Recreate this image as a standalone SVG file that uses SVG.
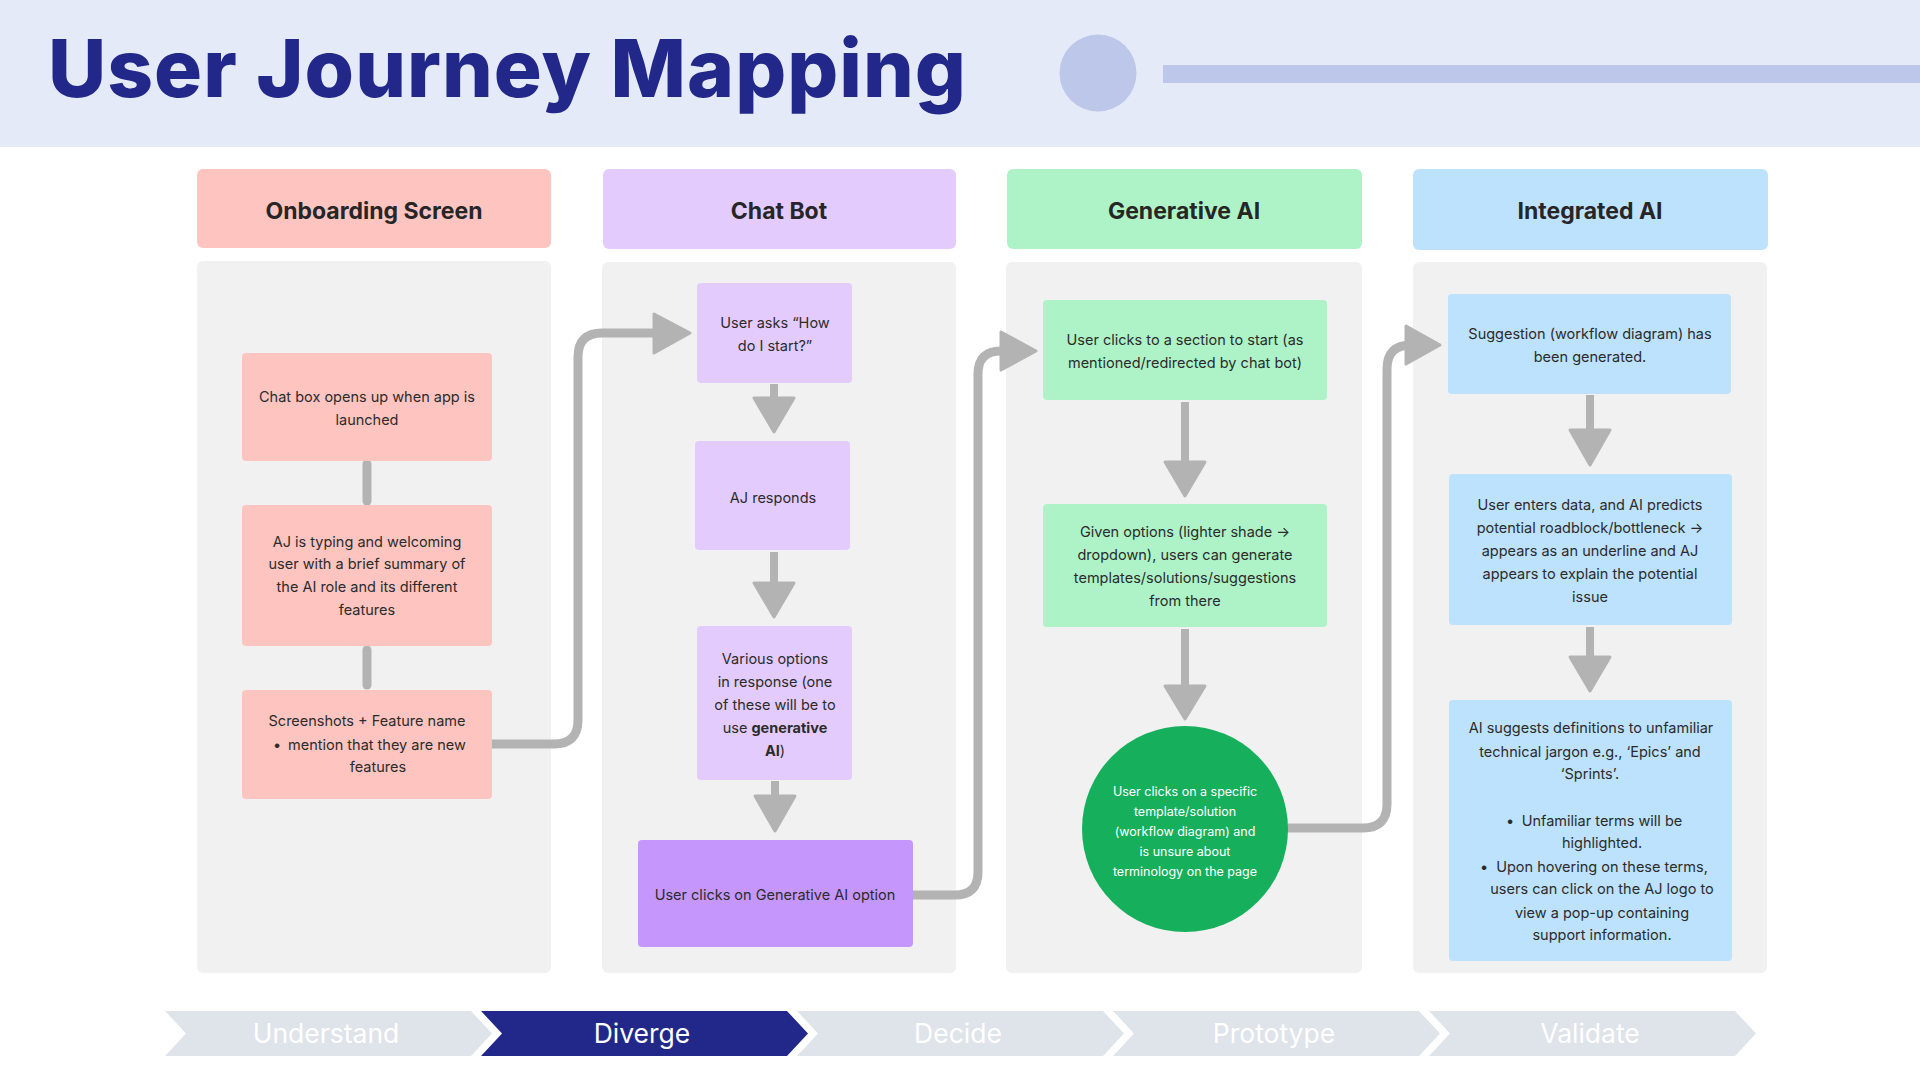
<svg xmlns="http://www.w3.org/2000/svg" width="1920" height="1080" viewBox="0 0 1920 1080">
<defs>
<style>
.t{font-family:Inter,"Noto Sans","Liberation Sans",sans-serif;font-size:14.5px;fill:#2b2b2b;text-anchor:middle}
.b{font-weight:700}
.hd{font-family:Inter,"Noto Sans","Liberation Sans",sans-serif;font-size:23px;font-weight:700;fill:#262626;text-anchor:middle}
.ct{font-family:Inter,"Noto Sans","Liberation Sans",sans-serif;font-size:12.5px;fill:#ffffff;text-anchor:middle}
.st{font-family:Inter,"Noto Sans","Liberation Sans",sans-serif;font-size:26.5px;fill:#ffffff;text-anchor:middle}
.body{fill:#f1f1f1}
.line{fill:none;stroke:#b3b3b3;stroke-width:9;stroke-linecap:round;stroke-linejoin:round}
.stem{fill:none;stroke:#b3b3b3;stroke-width:8}
.head{fill:#b3b3b3;stroke:#b3b3b3;stroke-width:3;stroke-linejoin:round}
.pk{fill:#fec5c0}.pu{fill:#e4cbfd}.pu2{fill:#c597fd}.gr{fill:#aef3c8}.bl{fill:#bde2fd}
.chev{fill:#dfe3ea}
</style>
</defs>
<rect x="0" y="0" width="1920" height="1080" fill="#ffffff"/>
<g id="header">
<rect x="0" y="0" width="1920" height="147" fill="#e4eaf8"/>
<text x="48" y="97" font-family="Inter,'Noto Sans','Liberation Sans',sans-serif" font-size="80" font-weight="800" fill="#21288a" textLength="918">User Journey Mapping</text>
<circle cx="1098" cy="73" r="38.5" fill="#bcc7ea"/>
<rect x="1163" y="65" width="757" height="18" fill="#bcc7ea"/>
</g>

<g id="col-onboarding">
<rect x="197" y="169" width="354" height="79" rx="6" class="pk"/>
<text x="374" y="219" class="hd">Onboarding Screen</text>
<rect x="197" y="261" width="354" height="712" rx="6" class="body"/>
</g>
<g id="col-chatbot">
<rect x="603" y="169" width="353" height="80" rx="6" class="pu"/>
<text x="779" y="219" class="hd">Chat Bot</text>
<rect x="602" y="262" width="354" height="711" rx="6" class="body"/>
</g>
<g id="col-genai">
<rect x="1007" y="169" width="355" height="80" rx="6" class="gr"/>
<text x="1184" y="219" class="hd">Generative AI</text>
<rect x="1006" y="262" width="356" height="711" rx="6" class="body"/>
</g>
<g id="col-integrated">
<rect x="1413" y="169" width="355" height="81" rx="6" class="bl"/>
<text x="1590" y="219" class="hd">Integrated AI</text>
<rect x="1413" y="262" width="354" height="711" rx="6" class="body"/>
</g>

<g id="connectors">
<line x1="367" y1="464" x2="367" y2="501" class="line" stroke-width="8"/>
<line x1="367" y1="650" x2="367" y2="685" class="line" stroke-width="8"/>
<path d="M492 744 H554 Q578 744 578 720 V357 Q578 333 602 333 H660" class="line"/>
<polygon points="654,314 690,333 654,353" class="head"/>
<path d="M913 895 H955 Q978 895 978 872 V374 Q978 351 1001 351 H1008" class="line"/>
<polygon points="1001,332 1036,351 1001,370" class="head"/>
<path d="M1289 828 H1363 Q1387 828 1387 804 V369 Q1387 345 1411 345 H1412" class="line"/>
<polygon points="1406,326 1440,345 1406,364" class="head"/>
<line x1="774" y1="384" x2="774" y2="400" class="stem"/>
<polygon points="754,398 794,398 774,432" class="head"/>
<line x1="774" y1="552" x2="774" y2="585" class="stem"/>
<polygon points="754,583 794,583 774,617" class="head"/>
<line x1="775" y1="781" x2="775" y2="798" class="stem"/>
<polygon points="755,796 795,796 775,831" class="head"/>
<line x1="1185" y1="402" x2="1185" y2="464" class="stem"/>
<polygon points="1165,462 1205,462 1185,496" class="head"/>
<line x1="1185" y1="629" x2="1185" y2="688" class="stem"/>
<polygon points="1165,686 1205,686 1185,719" class="head"/>
<line x1="1590" y1="395" x2="1590" y2="432" class="stem"/>
<polygon points="1570,430 1610,430 1590,465" class="head"/>
<line x1="1590" y1="627" x2="1590" y2="659" class="stem"/>
<polygon points="1570,657 1610,657 1590,691" class="head"/>
</g>

<g id="n-chatbox">
<rect x="242" y="353" width="250" height="108" rx="4" class="pk"/>
<text class="t"><tspan x="367" y="402">Chat box opens up when app is</tspan><tspan x="367" y="424.5">launched</tspan></text>
</g>
<g id="n-typing">
<rect x="242" y="505" width="250" height="141" rx="4" class="pk"/>
<text class="t"><tspan x="367" y="546.5">AJ is typing and welcoming</tspan><tspan x="367" y="569">user with a brief summary of</tspan><tspan x="367" y="592">the AI role and its different</tspan><tspan x="367" y="615">features</tspan></text>
</g>
<g id="n-screenshots">
<rect x="242" y="690" width="250" height="109" rx="4" class="pk"/>
<text class="t"><tspan x="367" y="726">Screenshots + Feature name</tspan></text>
<text class="t" x="277" y="749.5">•</text>
<text class="t" x="288" y="749.5" style="text-anchor:start">mention that they are new</text>
<text class="t" x="378" y="772">features</text>
</g>

<g id="n-asks">
<rect x="697" y="283" width="155" height="100" rx="4" class="pu"/>
<text class="t"><tspan x="775" y="327.5">User asks “How</tspan><tspan x="775" y="350.5">do I start?”</tspan></text>
</g>
<g id="n-responds">
<rect x="695" y="441" width="155" height="109" rx="4" class="pu"/>
<text class="t" x="773" y="502.5">AJ responds</text>
</g>
<g id="n-options">
<rect x="697" y="626" width="155" height="154" rx="4" class="pu"/>
<text class="t"><tspan x="775" y="663.5">Various options</tspan><tspan x="775" y="686.5">in response (one</tspan><tspan x="775" y="709.5">of these will be to</tspan><tspan x="775" y="732.5">use <tspan class="b">generative</tspan></tspan><tspan x="775" y="755.5"><tspan class="b">AI</tspan>)</tspan></text>
</g>
<g id="n-clicks-gen">
<rect x="638" y="840" width="275" height="107" rx="4" class="pu2"/>
<text class="t" x="775" y="900">User clicks on Generative AI option</text>
</g>

<g id="n-section">
<rect x="1043" y="300" width="284" height="100" rx="4" class="gr"/>
<text class="t"><tspan x="1185" y="345">User clicks to a section to start (as</tspan><tspan x="1185" y="368">mentioned/redirected by chat bot)</tspan></text>
</g>
<g id="n-given">
<rect x="1043" y="504" width="284" height="123" rx="4" class="gr"/>
<text class="t"><tspan x="1185" y="537">Given options (lighter shade →</tspan><tspan x="1185" y="560">dropdown), users can generate</tspan><tspan x="1185" y="583">templates/solutions/suggestions</tspan><tspan x="1185" y="606">from there</tspan></text>
</g>
<g id="n-specific">
<circle cx="1185" cy="829" r="103" fill="#16b05d"/>
<text class="ct"><tspan x="1185" y="795.5">User clicks on a specific</tspan><tspan x="1185" y="815.5">template/solution</tspan><tspan x="1185" y="835.5">(workflow diagram) and</tspan><tspan x="1185" y="855.5">is unsure about</tspan><tspan x="1185" y="875.5">terminology on the page</tspan></text>
</g>

<g id="n-suggestion">
<rect x="1448" y="294" width="283" height="100" rx="4" class="bl"/>
<text class="t"><tspan x="1590" y="339">Suggestion (workflow diagram) has</tspan><tspan x="1590" y="362">been generated.</tspan></text>
</g>
<g id="n-enters">
<rect x="1449" y="474" width="283" height="151" rx="4" class="bl"/>
<text class="t"><tspan x="1590" y="509.5">User enters data, and AI predicts</tspan><tspan x="1590" y="532.5">potential roadblock/bottleneck →</tspan><tspan x="1590" y="555.5">appears as an underline and AJ</tspan><tspan x="1590" y="578.5">appears to explain the potential</tspan><tspan x="1590" y="601.5">issue</tspan></text>
</g>
<g id="n-definitions">
<rect x="1449" y="700" width="283" height="261" rx="4" class="bl"/>
<text class="t"><tspan x="1591" y="733">AI suggests definitions to unfamiliar</tspan><tspan x="1590" y="756.5">technical jargon e.g., ‘Epics’ and</tspan><tspan x="1590" y="779">‘Sprints’.</tspan></text>
<text class="t" x="1510" y="825.5">•</text>
<text class="t"><tspan x="1602" y="825.5">Unfamiliar terms will be</tspan><tspan x="1602" y="848">highlighted.</tspan></text>
<text class="t" x="1484" y="871.5">•</text>
<text class="t"><tspan x="1602" y="871.5">Upon hovering on these terms,</tspan><tspan x="1602" y="894">users can click on the AJ logo to</tspan><tspan x="1602" y="917.5">view a pop-up containing</tspan><tspan x="1602" y="940">support information.</tspan></text>
</g>

<g id="stages">
<polygon points="165,1011 471,1011 492,1033.5 471,1056 165,1056 186,1033.5" class="chev"/>
<text class="st" x="326" y="1043">Understand</text>
<polygon points="481,1011 787,1011 808,1033.5 787,1056 481,1056 502,1033.5" fill="#21288a"/>
<text class="st" x="642" y="1043">Diverge</text>
<polygon points="797,1011 1103,1011 1124,1033.5 1103,1056 797,1056 818,1033.5" class="chev"/>
<text class="st" x="958" y="1043">Decide</text>
<polygon points="1113,1011 1419,1011 1440,1033.5 1419,1056 1113,1056 1134,1033.5" class="chev"/>
<text class="st" x="1274" y="1043">Prototype</text>
<polygon points="1429,1011 1735,1011 1756,1033.5 1735,1056 1429,1056 1450,1033.5" class="chev"/>
<text class="st" x="1590" y="1043">Validate</text>
</g>
</svg>
